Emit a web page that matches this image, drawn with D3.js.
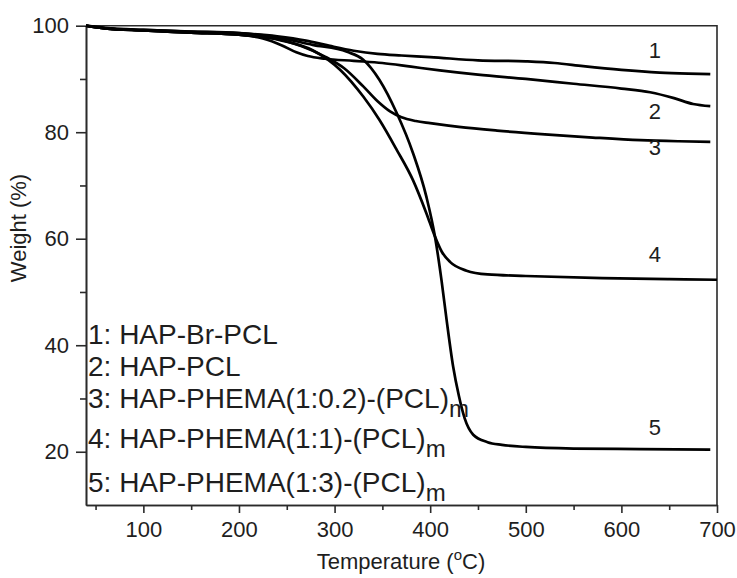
<!DOCTYPE html>
<html lang="en">
<head>
    <meta charset="UTF-8">
    <title>TGA</title>
    <script src="https://d3js.org/d3.v7.min.js"></script>
    <style>
        body { margin: 0; background: #fff; }
        svg { display: block; font-family: "Liberation Sans", Arial, sans-serif; }
        .axis path, .axis line { stroke: #2a2a2a; stroke-width: 1.6; }
        .axis text { fill: #1e1e1e; font-size: 22px; font-family: "Liberation Sans", Arial, sans-serif; }
        .frame { stroke: #2a2a2a; stroke-width: 1.6; fill: none; }
        .curve { fill: none; stroke: #000; stroke-width: 2.7; }
        .lbl { fill: #1e1e1e; font-size: 22px; }
        .legend { fill: #1e1e1e; font-size: 28px; }
        .title { fill: #1e1e1e; font-size: 22px; }
    </style>
</head>
<body>
<script>
    const width = 737;
    const height = 578;

    // temperature (C) / weight (%)
    const temp1 = [40, 60, 100, 150, 200, 240, 270, 295, 320, 345, 370, 400, 450, 500, 530, 560, 600, 640, 670, 693];
    const weight1 = [100, 99.6, 99.2, 98.9, 98.6, 98.0, 97.2, 96.2, 95.3, 94.7, 94.4, 94.1, 93.5, 93.3, 93.0, 92.4, 91.7, 91.2, 91.0, 90.9];

    const temp2 = [40, 60, 100, 150, 200, 225, 245, 260, 272, 290, 320, 350, 380, 410, 450, 500, 550, 600, 630, 655, 675, 693];
    const weight2 = [100, 99.5, 99.1, 98.7, 98.3, 97.6, 96.3, 95.0, 94.3, 93.8, 93.4, 93.0, 92.3, 91.6, 90.8, 90.0, 89.1, 88.2, 87.5, 86.4, 85.3, 84.9];

    const temp3 = [40, 60, 100, 150, 200, 240, 265, 290, 310, 330, 345, 358, 370, 385, 400, 430, 470, 520, 570, 620, 660, 693];
    const weight3 = [100, 99.5, 99.1, 98.7, 98.3, 97.5, 96.2, 94.2, 92.0, 88.6, 85.8, 83.9, 82.8, 82.1, 81.7, 81.0, 80.3, 79.6, 79.0, 78.5, 78.3, 78.2];

    const temp4 = [40, 60, 100, 150, 200, 243, 277, 306, 330, 347, 365, 382, 396, 405, 412, 421, 438, 460, 500, 580, 650, 700];
    const weight4 = [100, 99.5, 99.1, 98.7, 98.3, 97.3, 95.4, 91.7, 86.7, 82.3, 76.7, 71.0, 64.8, 60.4, 57.6, 55.6, 54.0, 53.3, 53.0, 52.6, 52.4, 52.3];

    const temp5 = [40, 60, 100, 150, 200, 240, 277, 313, 330, 347, 365, 382, 396, 405, 412, 417, 424, 430, 436, 445, 460, 475, 500, 550, 620, 693];
    const weight5 = [100, 99.5, 99.2, 98.9, 98.6, 97.8, 96.4, 95.1, 93.6, 89.8, 83.6, 76.1, 67.9, 60.4, 52.0, 45.0, 36.0, 30.5, 26.3, 23.2, 21.8, 21.3, 20.9, 20.6, 20.5, 20.4];

    const curveIds = ["1", "2", "3", "4", "5"];
    const legendNames = ["HAP-Br-PCL", "HAP-PCL", "HAP-PHEMA(1:0.2)-(PCL)", "HAP-PHEMA(1:1)-(PCL)", "HAP-PHEMA(1:3)-(PCL)"];
    const legendSub = ["", "", "m", "m", "m"];

    const xTicks = [100, 200, 300, 400, 500, 600, 700];
    const xMinor = [50, 150, 250, 350, 450, 550, 650];
    const yTicks = [20, 40, 60, 80, 100];
    const yMinor = [30, 50, 70, 90];

    const svg = d3.select("body").append("svg")
        .attr("width", width).attr("height", height);

    const x = d3.scaleLinear().domain([40, 700]).range([86, 717]);
    const y = d3.scaleLinear().domain([10, 100]).range([505, 25.7]);

    // minor ticks first, then major axes on top
    svg.append("g").attr("class", "axis")
        .attr("transform", `translate(0,${y(10)})`)
        .call(d3.axisBottom(x).tickValues(xMinor).tickSize(5).tickSizeOuter(0).tickFormat(""));
    svg.append("g").attr("class", "axis")
        .attr("transform", `translate(${x(40)},0)`)
        .call(d3.axisLeft(y).tickValues(yMinor).tickSize(6).tickSizeOuter(0).tickFormat(""));

    svg.append("g").attr("class", "axis")
        .attr("transform", `translate(0,${y(10)})`)
        .call(d3.axisBottom(x).tickValues(xTicks).tickSize(8).tickSizeOuter(0).tickPadding(8));
    svg.append("g").attr("class", "axis")
        .attr("transform", `translate(${x(40)},0)`)
        .call(d3.axisLeft(y).tickValues(yTicks).tickSize(10).tickSizeOuter(0).tickPadding(7));

    // top and right border
    svg.append("path").attr("class", "frame")
        .attr("d", `M${x(40)},${y(100)}H${x(700)}V${y(10)}`);

    const line = d3.line()
        .x(d => x(d[0]))
        .y(d => y(d[1]))
        .curve(d3.curveMonotoneX);

    const series = [
        d3.zip(temp1, weight1),
        d3.zip(temp2, weight2),
        d3.zip(temp3, weight3),
        d3.zip(temp4, weight4),
        d3.zip(temp5, weight5)
    ];

    svg.selectAll("path.curve").data(series).enter()
        .append("path").attr("class", "curve")
        .attr("d", line);

    // curve numbers near right end
    const lblShift = [-14, 26, 14, -17, -14];
    series.forEach(function(s, i) {
        const f = d3.scaleLinear().domain(s.map(d => d[0])).range(s.map(d => d[1]));
        svg.append("text").attr("class", "lbl")
            .attr("x", x(635)).attr("y", y(f(635)) + lblShift[i])
            .attr("text-anchor", "middle")
            .text(curveIds[i]);
    });

    // legend
    const rowY = [344, 376, 408, 448, 492];
    const legend = svg.append("g");
    legendNames.forEach(function(name, i) {
        const t = legend.append("text").attr("class", "legend")
            .attr("x", 88).attr("y", rowY[i]);
        t.append("tspan").text(curveIds[i] + ": " + name);
        if (legendSub[i]) {
            t.append("tspan").attr("dy", 9).style("font-size", "24px").text(legendSub[i]);
        }
    });

    // axis titles
    const xt = svg.append("text").attr("class", "title")
        .attr("x", 401).attr("y", 569).attr("text-anchor", "middle");
    xt.append("tspan").text("Temperature (");
    xt.append("tspan").attr("dy", -9).style("font-size", "15px").text("o");
    xt.append("tspan").attr("dy", 9).text("C)");

    svg.append("text").attr("class", "title")
        .attr("transform", "translate(26,228) rotate(-90)")
        .attr("text-anchor", "middle")
        .text("Weight (%)");
</script>
</body>
</html>
